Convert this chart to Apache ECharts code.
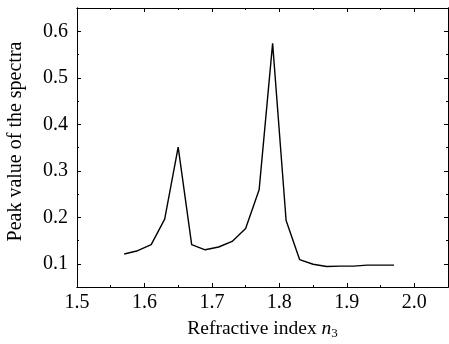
<!DOCTYPE html>
<html>
<head>
<meta charset="utf-8">
<script src="https://cdn.jsdelivr.net/npm/echarts@6/dist/echarts.min.js"></script>
<style>
  html, body { margin: 0; padding: 0; background: #fff; }
  #chart { width: 449px; height: 344px; }
</style>
</head>
<body>
<div id="chart"></div>
<script>
// refractive index n3 and peak value
var n3 = [1.57, 1.59, 1.61, 1.63, 1.65, 1.67, 1.69, 1.71, 1.73, 1.75, 1.77,
          1.79, 1.81, 1.83, 1.85, 1.87, 1.89, 1.91, 1.93, 1.95, 1.97];
var peak = [0.121, 0.128, 0.141, 0.196, 0.351, 0.141, 0.130, 0.136, 0.148, 0.176, 0.259,
            0.574, 0.193, 0.109, 0.099, 0.094, 0.095, 0.095, 0.097, 0.097, 0.097];

var xMajor = [1.5, 1.6, 1.7, 1.8, 1.9, 2.0];
var xMinor = [1.55, 1.65, 1.75, 1.85, 1.95, 2.05];
var yMajor = [0.1, 0.2, 0.3, 0.4, 0.5, 0.6];
var yMinor = [0.05, 0.15, 0.25, 0.35, 0.45, 0.55, 0.65];

var font = 'Liberation Serif';

function xAx(pos, ticks, len, labels) {
  return {
    type: 'value', position: pos, min: 1.5, max: 2.05,
    axisLine: { show: true, lineStyle: { color: '#000', width: 1 } },
    axisTick: { inside: true, length: len, customValues: ticks, lineStyle: { color: '#000' } },
    axisLabel: labels ? {
      customValues: xMajor, margin: 6, fontFamily: font, fontSize: 20, color: '#000',
      formatter: function (v) { return v.toFixed(1); }
    } : { show: false },
    splitLine: { show: false }
  };
}

function yAx(pos, ticks, len, labels) {
  return {
    type: 'value', position: pos, min: 0.05, max: 0.65,
    axisLine: { show: true, lineStyle: { color: '#000', width: 1 } },
    axisTick: { inside: true, length: len, customValues: ticks, lineStyle: { color: '#000' } },
    axisLabel: labels ? {
      customValues: yMajor, margin: 9, fontFamily: font, fontSize: 20, color: '#000',
      formatter: function (v) { return v.toFixed(1); }
    } : { show: false },
    splitLine: { show: false }
  };
}

var chart = echarts.init(document.getElementById('chart'));

var xMain = xAx('bottom', xMajor, 4, true);
xMain.name = '{a|Refractive index }{i|n}{s|3}';
xMain.nameLocation = 'middle';
xMain.nameGap = 31;
xMain.nameTextStyle = {
  rich: {
    a: { fontFamily: font, fontSize: 19.5, color: '#000' },
    i: { fontFamily: font, fontSize: 19.5, fontStyle: 'italic', color: '#000' },
    s: { fontFamily: font, fontSize: 13, color: '#000', verticalAlign: 'bottom', padding: [9, 0, 0, 0] }
  }
};

var yMain = yAx('left', yMajor, 4, true);
yMain.name = 'Peak value of the spectra';
yMain.nameLocation = 'middle';
yMain.nameGap = 51;
yMain.nameTextStyle = { fontFamily: font, fontSize: 20, color: '#000', padding: [0, 0, 0, 12] };

chart.setOption({
  animation: false,
  grid: { left: 77, right: 1, top: 8, bottom: 57, outerBoundsMode: 'none' },
  xAxis: [
    xMain,
    xAx('bottom', xMinor, 2, false),
    xAx('top', xMajor, 4, false),
    xAx('top', xMinor, 2, false)
  ],
  yAxis: [
    yMain,
    yAx('left', yMinor, 2, false),
    yAx('right', yMajor, 4, false),
    yAx('right', yMinor, 2, false)
  ],
  series: [{
    type: 'line',
    xAxisIndex: 0,
    yAxisIndex: 0,
    data: n3.map(function (x, i) { return [x, peak[i]]; }),
    showSymbol: false,
    lineStyle: { color: '#000', width: 1.4 }
  }]
});
</script>
</body>
</html>
